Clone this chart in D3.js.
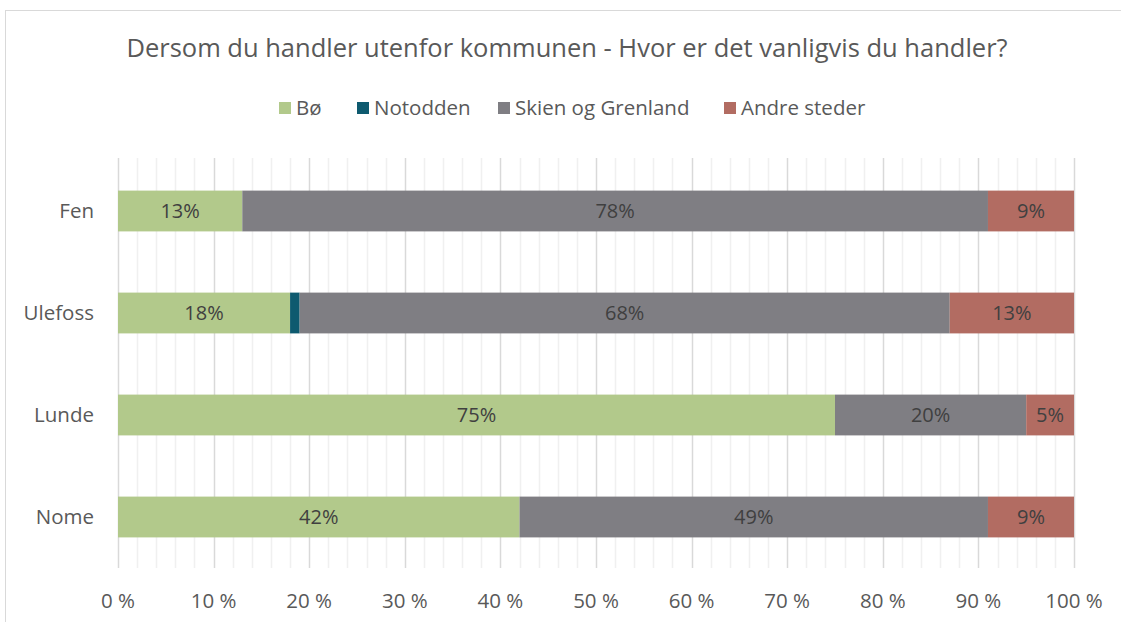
<!DOCTYPE html>
<html>
<head>
<meta charset="utf-8">
<script src="https://cdn.jsdelivr.net/npm/d3@7"></script>
<style>
  body { margin: 0; background: #fff; }
  svg text { font-family: "Open Sans", Lato, sans-serif; fill: #595959; }
</style>
</head>
<body>
<div id="viz-container" style="width:1121px;height:622px;"></div>
<script>
const categories = ["Fen", "Ulefoss", "Lunde", "Nome"];
const seriesNames = ["Bø", "Notodden", "Skien og Grenland", "Andre steder"];
const bo = [13, 18, 75, 42];
const notodden = [0, 1, 0, 0];
const skien = [78, 68, 20, 49];
const andre = [9, 13, 5, 9];
const tickLabels = ["0 %", "10 %", "20 %", "30 %", "40 %", "50 %", "60 %", "70 %", "80 %", "90 %", "100 %"];

const colors = ["#b2c98b", "#0e5a6f", "#7f7e83", "#b26c62"];

const width = 1121;
const height = 622;

const svg = d3
  .select("#viz-container")
  .append("svg")
  .attr("width", width)
  .attr("height", height);

// chart frame
svg
  .append("rect")
  .attr("x", 5.5)
  .attr("y", 10.5)
  .attr("width", width + 20)
  .attr("height", height + 20)
  .attr("fill", "none")
  .attr("stroke", "#d9d9d9");

const x = d3.scaleLinear().domain([0, 100]).range([118, 1074]);
const y = d3
  .scaleBand()
  .domain(categories)
  .range([160, 568])
  .paddingInner(0.6)
  .paddingOuter(0.3);

// minor grid (every 2%)
svg
  .append("g")
  .selectAll("line")
  .data(d3.range(0, 101, 2).filter((v) => v % 10 !== 0))
  .join("line")
  .attr("x1", (d) => Math.round(x(d)) + 0.5)
  .attr("x2", (d) => Math.round(x(d)) + 0.5)
  .attr("y1", 158)
  .attr("y2", 568)
  .attr("stroke", "#f0f0f0")
  .attr("stroke-width", 1.5);

// major grid (every 10%)
svg
  .append("g")
  .selectAll("line")
  .data(d3.range(0, 101, 10))
  .join("line")
  .attr("x1", (d) => Math.round(x(d)) + 0.5)
  .attr("x2", (d) => Math.round(x(d)) + 0.5)
  .attr("y1", 158)
  .attr("y2", 568)
  .attr("stroke", "#d9d9d9")
  .attr("stroke-width", 1.5);

const table = categories.map((c, i) => ({
  cat: c,
  "Bø": bo[i],
  "Notodden": notodden[i],
  "Skien og Grenland": skien[i],
  "Andre steder": andre[i],
}));
const stacked = d3.stack().keys(seriesNames)(table);

const layers = svg
  .append("g")
  .selectAll("g")
  .data(stacked)
  .join("g")
  .attr("fill", (d, i) => colors[i]);

layers
  .selectAll("rect")
  .data((d) => d)
  .join("rect")
  .attr("x", (d) => x(d[0]))
  .attr("y", (d) => y(d.data.cat))
  .attr("width", (d) => x(d[1]) - x(d[0]))
  .attr("height", y.bandwidth());

layers
  .selectAll("text")
  .data((d) => d.filter((p) => p[1] - p[0] >= 2))
  .join("text")
  .attr("x", (d) => (x(d[0]) + x(d[1])) / 2)
  .attr("y", (d) => y(d.data.cat) + y.bandwidth() / 2)
  .attr("dy", "0.35em")
  .attr("text-anchor", "middle")
  .style("font-size", "20px")
  .style("fill", "#404040")
  .text((d) => d[1] - d[0] + "%");

// category labels
svg
  .append("g")
  .selectAll("text")
  .data(categories)
  .join("text")
  .attr("x", 94)
  .attr("y", (d) => y(d) + y.bandwidth() / 2)
  .attr("dy", "0.35em")
  .attr("text-anchor", "end")
  .style("font-size", "20.5px")
  .text((d) => d);

// x tick labels
svg
  .append("g")
  .selectAll("text")
  .data(tickLabels)
  .join("text")
  .attr("x", (d, i) => x(i * 10))
  .attr("y", 601)
  .attr("dy", "0.35em")
  .attr("text-anchor", "middle")
  .style("font-size", "20.5px")
  .text((d) => d);

// title
svg
  .append("text")
  .attr("x", 567)
  .attr("y", 48)
  .attr("dy", "0.35em")
  .attr("text-anchor", "middle")
  .style("font-size", "25.5px")
  .text("Dersom du handler utenfor kommunen - Hvor er det vanligvis du handler?");

// legend
const legendX = [279, 357, 498, 724];
const legend = svg
  .append("g")
  .selectAll("g")
  .data(seriesNames)
  .join("g")
  .attr("transform", (d, i) => `translate(${legendX[i]},108)`);
legend
  .append("rect")
  .attr("x", 0)
  .attr("y", -6)
  .attr("width", 12)
  .attr("height", 12)
  .attr("fill", (d, i) => colors[i]);
legend
  .append("text")
  .attr("x", 17)
  .attr("y", 0)
  .attr("dy", "0.35em")
  .style("font-size", "20.5px")
  .text((d) => d);
</script>
</body>
</html>
